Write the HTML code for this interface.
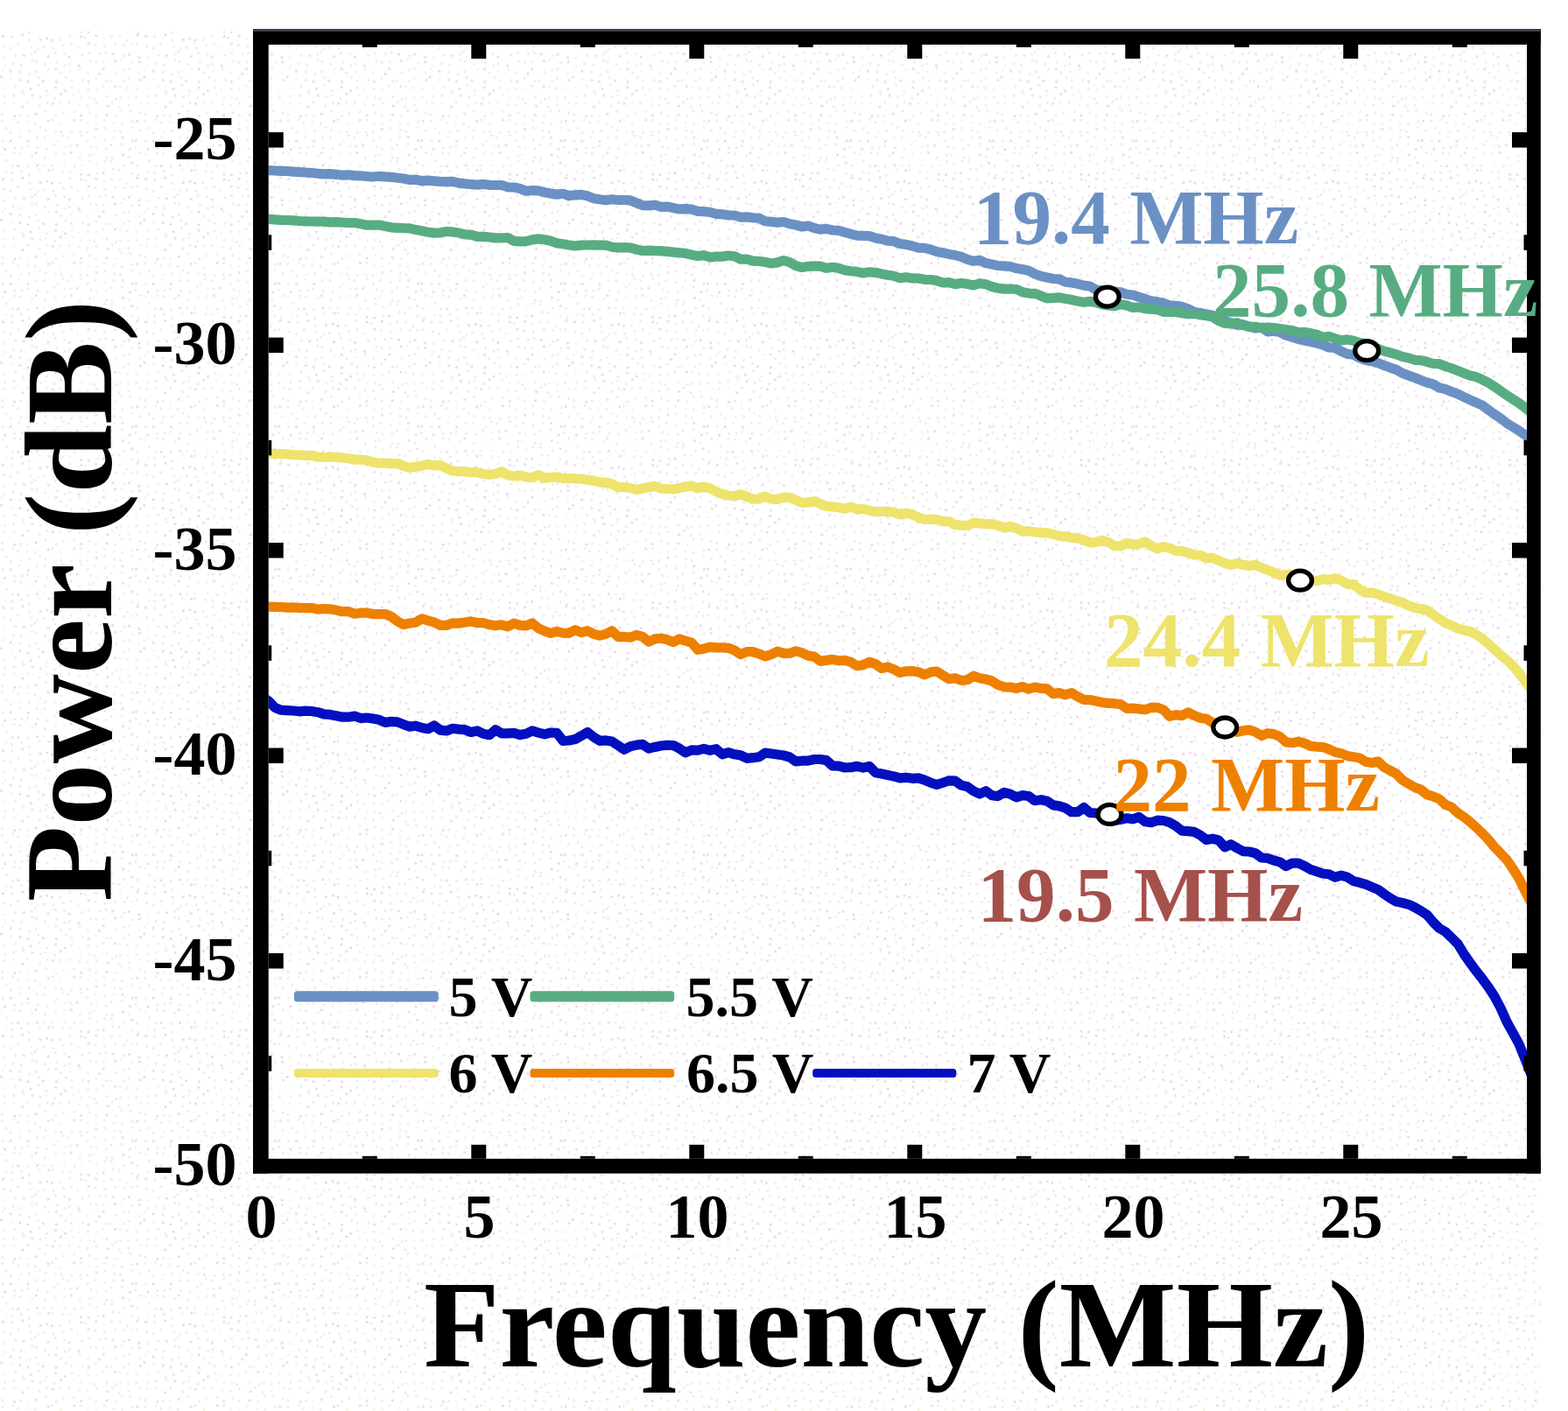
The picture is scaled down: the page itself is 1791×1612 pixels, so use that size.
<!DOCTYPE html>
<html lang="en"><head><meta charset="utf-8"><title>Power vs Frequency</title>
<style>
html,body{margin:0;padding:0;background:#fff;}
body{width:1791px;height:1612px;overflow:hidden;}
svg{display:block;}
text{font-family:"Liberation Serif","DejaVu Serif",serif;font-weight:bold;}
</style></head><body>
<svg width="1791" height="1612" viewBox="0 0 1791 1612">
<defs>
<clipPath id="plot"><rect x="306.7" y="51.0" width="1437.3" height="1272.8"/></clipPath>
<pattern id="dz" width="163.2" height="163.2" patternUnits="userSpaceOnUse"><rect x="4.4" y="6.3" width="2.6" height="2.6" fill="#ecd3ef"/><rect x="1.6" y="11.7" width="2.6" height="2.6" fill="#f4f4da"/><rect x="6.1" y="19.2" width="2.6" height="2.6" fill="#eaeaea"/><rect x="5.6" y="32.1" width="2.6" height="2.6" fill="#f4f4da"/><rect x="2.1" y="40.3" width="2.6" height="2.6" fill="#ecd3ef"/><rect x="3.1" y="51.5" width="2.6" height="2.6" fill="#eaeaea"/><rect x="3.9" y="64.6" width="2.6" height="2.6" fill="#f4f4da"/><rect x="4.4" y="74.1" width="2.6" height="2.6" fill="#f4f4da"/><rect x="1.5" y="77.9" width="2.6" height="2.6" fill="#f4f4da"/><rect x="0.3" y="86.6" width="2.6" height="2.6" fill="#ecd3ef"/><rect x="3.6" y="99.3" width="2.6" height="2.6" fill="#f4f4da"/><rect x="4.4" y="109.2" width="2.6" height="2.6" fill="#ddf4f6"/><rect x="3.5" y="116.9" width="2.6" height="2.6" fill="#ddf4f6"/><rect x="1.3" y="129.6" width="2.6" height="2.6" fill="#eaeaea"/><rect x="1.4" y="137.0" width="2.6" height="2.6" fill="#eaeaea"/><rect x="5.8" y="145.1" width="2.6" height="2.6" fill="#eaeaea"/><rect x="1.9" y="159.8" width="2.6" height="2.6" fill="#eaeaea"/><rect x="15.5" y="4.5" width="2.6" height="2.6" fill="#eaeaea"/><rect x="14.8" y="10.2" width="2.6" height="2.6" fill="#eaeaea"/><rect x="13.2" y="25.3" width="2.6" height="2.6" fill="#eaeaea"/><rect x="12.1" y="33.0" width="2.6" height="2.6" fill="#eaeaea"/><rect x="12.3" y="40.7" width="2.6" height="2.6" fill="#eaeaea"/><rect x="10.7" y="53.7" width="2.6" height="2.6" fill="#eaeaea"/><rect x="16.5" y="61.7" width="2.6" height="2.6" fill="#eaeaea"/><rect x="13.8" y="71.7" width="2.6" height="2.6" fill="#eaeaea"/><rect x="10.7" y="79.9" width="2.6" height="2.6" fill="#ecd3ef"/><rect x="11.3" y="89.2" width="2.6" height="2.6" fill="#f4f4da"/><rect x="16.4" y="97.5" width="2.6" height="2.6" fill="#eaeaea"/><rect x="14.3" y="107.7" width="2.6" height="2.6" fill="#eaeaea"/><rect x="14.2" y="116.1" width="2.6" height="2.6" fill="#f4f4da"/><rect x="15.5" y="131.4" width="2.6" height="2.6" fill="#ecd3ef"/><rect x="13.6" y="135.4" width="2.6" height="2.6" fill="#ddf4f6"/><rect x="10.9" y="150.5" width="2.6" height="2.6" fill="#eaeaea"/><rect x="10.9" y="159.8" width="2.6" height="2.6" fill="#ecd3ef"/><rect x="23.7" y="4.0" width="2.6" height="2.6" fill="#eaeaea"/><rect x="22.1" y="11.3" width="2.6" height="2.6" fill="#eaeaea"/><rect x="19.5" y="25.3" width="2.6" height="2.6" fill="#ecd3ef"/><rect x="23.0" y="31.1" width="2.6" height="2.6" fill="#eaeaea"/><rect x="24.5" y="38.6" width="2.6" height="2.6" fill="#ecd3ef"/><rect x="19.4" y="48.9" width="2.6" height="2.6" fill="#eaeaea"/><rect x="26.0" y="62.2" width="2.6" height="2.6" fill="#ecd3ef"/><rect x="22.9" y="73.3" width="2.6" height="2.6" fill="#eaeaea"/><rect x="21.6" y="80.9" width="2.6" height="2.6" fill="#eaeaea"/><rect x="21.7" y="90.0" width="2.6" height="2.6" fill="#ecd3ef"/><rect x="24.6" y="102.4" width="2.6" height="2.6" fill="#ddf4f6"/><rect x="25.7" y="105.6" width="2.6" height="2.6" fill="#eaeaea"/><rect x="24.5" y="120.9" width="2.6" height="2.6" fill="#ecd3ef"/><rect x="22.1" y="130.5" width="2.6" height="2.6" fill="#eaeaea"/><rect x="19.3" y="138.8" width="2.6" height="2.6" fill="#eaeaea"/><rect x="22.8" y="149.1" width="2.6" height="2.6" fill="#f4f4da"/><rect x="20.8" y="155.0" width="2.6" height="2.6" fill="#ddf4f6"/><rect x="30.1" y="2.4" width="2.6" height="2.6" fill="#eaeaea"/><rect x="35.4" y="13.6" width="2.6" height="2.6" fill="#ddf4f6"/><rect x="30.7" y="25.9" width="2.6" height="2.6" fill="#eaeaea"/><rect x="31.9" y="35.7" width="2.6" height="2.6" fill="#eaeaea"/><rect x="32.4" y="44.7" width="2.6" height="2.6" fill="#eaeaea"/><rect x="34.0" y="52.1" width="2.6" height="2.6" fill="#f4f4da"/><rect x="34.9" y="60.5" width="2.6" height="2.6" fill="#eaeaea"/><rect x="35.3" y="67.7" width="2.6" height="2.6" fill="#eaeaea"/><rect x="32.4" y="83.5" width="2.6" height="2.6" fill="#eaeaea"/><rect x="30.6" y="92.0" width="2.6" height="2.6" fill="#ecd3ef"/><rect x="33.8" y="100.4" width="2.6" height="2.6" fill="#ecd3ef"/><rect x="35.6" y="107.9" width="2.6" height="2.6" fill="#ecd3ef"/><rect x="30.2" y="115.6" width="2.6" height="2.6" fill="#eaeaea"/><rect x="30.3" y="131.2" width="2.6" height="2.6" fill="#f4f4da"/><rect x="29.6" y="138.6" width="2.6" height="2.6" fill="#f4f4da"/><rect x="32.2" y="148.2" width="2.6" height="2.6" fill="#eaeaea"/><rect x="30.9" y="160.3" width="2.6" height="2.6" fill="#ecd3ef"/><rect x="41.7" y="4.4" width="2.6" height="2.6" fill="#eaeaea"/><rect x="39.7" y="10.0" width="2.6" height="2.6" fill="#ecd3ef"/><rect x="41.3" y="24.5" width="2.6" height="2.6" fill="#ecd3ef"/><rect x="43.5" y="29.6" width="2.6" height="2.6" fill="#f4f4da"/><rect x="44.8" y="44.0" width="2.6" height="2.6" fill="#ecd3ef"/><rect x="42.1" y="54.4" width="2.6" height="2.6" fill="#f4f4da"/><rect x="38.7" y="57.8" width="2.6" height="2.6" fill="#eaeaea"/><rect x="40.2" y="68.9" width="2.6" height="2.6" fill="#eaeaea"/><rect x="39.7" y="80.8" width="2.6" height="2.6" fill="#eaeaea"/><rect x="42.5" y="87.6" width="2.6" height="2.6" fill="#eaeaea"/><rect x="43.1" y="96.1" width="2.6" height="2.6" fill="#eaeaea"/><rect x="45.0" y="109.4" width="2.6" height="2.6" fill="#eaeaea"/><rect x="44.1" y="119.8" width="2.6" height="2.6" fill="#eaeaea"/><rect x="39.7" y="128.8" width="2.6" height="2.6" fill="#ecd3ef"/><rect x="38.7" y="140.0" width="2.6" height="2.6" fill="#eaeaea"/><rect x="44.4" y="144.4" width="2.6" height="2.6" fill="#ddf4f6"/><rect x="40.8" y="155.8" width="2.6" height="2.6" fill="#eaeaea"/><rect x="52.4" y="5.6" width="2.6" height="2.6" fill="#eaeaea"/><rect x="50.2" y="15.6" width="2.6" height="2.6" fill="#eaeaea"/><rect x="48.9" y="24.6" width="2.6" height="2.6" fill="#f4f4da"/><rect x="54.2" y="30.2" width="2.6" height="2.6" fill="#ecd3ef"/><rect x="52.5" y="42.7" width="2.6" height="2.6" fill="#ecd3ef"/><rect x="48.7" y="52.6" width="2.6" height="2.6" fill="#eaeaea"/><rect x="53.8" y="63.2" width="2.6" height="2.6" fill="#ecd3ef"/><rect x="50.3" y="72.3" width="2.6" height="2.6" fill="#eaeaea"/><rect x="54.3" y="77.9" width="2.6" height="2.6" fill="#f4f4da"/><rect x="48.2" y="91.0" width="2.6" height="2.6" fill="#ecd3ef"/><rect x="51.9" y="102.6" width="2.6" height="2.6" fill="#eaeaea"/><rect x="50.7" y="107.4" width="2.6" height="2.6" fill="#f4f4da"/><rect x="52.6" y="115.9" width="2.6" height="2.6" fill="#eaeaea"/><rect x="50.7" y="125.7" width="2.6" height="2.6" fill="#eaeaea"/><rect x="53.8" y="137.0" width="2.6" height="2.6" fill="#ecd3ef"/><rect x="50.6" y="147.8" width="2.6" height="2.6" fill="#eaeaea"/><rect x="49.7" y="155.9" width="2.6" height="2.6" fill="#eaeaea"/><rect x="60.8" y="0.6" width="2.6" height="2.6" fill="#eaeaea"/><rect x="61.7" y="11.7" width="2.6" height="2.6" fill="#f4f4da"/><rect x="58.1" y="24.5" width="2.6" height="2.6" fill="#ddf4f6"/><rect x="58.5" y="29.7" width="2.6" height="2.6" fill="#eaeaea"/><rect x="58.2" y="44.7" width="2.6" height="2.6" fill="#ecd3ef"/><rect x="59.7" y="53.8" width="2.6" height="2.6" fill="#eaeaea"/><rect x="61.9" y="58.9" width="2.6" height="2.6" fill="#eaeaea"/><rect x="63.8" y="69.8" width="2.6" height="2.6" fill="#eaeaea"/><rect x="62.6" y="77.5" width="2.6" height="2.6" fill="#ecd3ef"/><rect x="63.0" y="92.2" width="2.6" height="2.6" fill="#ecd3ef"/><rect x="62.3" y="98.6" width="2.6" height="2.6" fill="#ecd3ef"/><rect x="61.2" y="110.9" width="2.6" height="2.6" fill="#eaeaea"/><rect x="58.9" y="117.1" width="2.6" height="2.6" fill="#ecd3ef"/><rect x="62.8" y="131.1" width="2.6" height="2.6" fill="#eaeaea"/><rect x="58.5" y="135.7" width="2.6" height="2.6" fill="#eaeaea"/><rect x="62.1" y="149.0" width="2.6" height="2.6" fill="#f4f4da"/><rect x="64.6" y="160.2" width="2.6" height="2.6" fill="#f4f4da"/><rect x="72.6" y="2.8" width="2.6" height="2.6" fill="#f4f4da"/><rect x="71.7" y="10.9" width="2.6" height="2.6" fill="#f4f4da"/><rect x="72.5" y="24.2" width="2.6" height="2.6" fill="#f4f4da"/><rect x="70.3" y="31.4" width="2.6" height="2.6" fill="#eaeaea"/><rect x="67.4" y="44.3" width="2.6" height="2.6" fill="#eaeaea"/><rect x="71.0" y="50.7" width="2.6" height="2.6" fill="#ddf4f6"/><rect x="72.3" y="60.3" width="2.6" height="2.6" fill="#eaeaea"/><rect x="73.0" y="73.6" width="2.6" height="2.6" fill="#eaeaea"/><rect x="68.2" y="82.1" width="2.6" height="2.6" fill="#eaeaea"/><rect x="74.2" y="87.4" width="2.6" height="2.6" fill="#eaeaea"/><rect x="73.0" y="102.4" width="2.6" height="2.6" fill="#ecd3ef"/><rect x="68.1" y="106.2" width="2.6" height="2.6" fill="#ecd3ef"/><rect x="68.0" y="116.4" width="2.6" height="2.6" fill="#ddf4f6"/><rect x="71.2" y="127.9" width="2.6" height="2.6" fill="#ddf4f6"/><rect x="68.5" y="140.8" width="2.6" height="2.6" fill="#f4f4da"/><rect x="68.7" y="149.4" width="2.6" height="2.6" fill="#eaeaea"/><rect x="70.5" y="153.8" width="2.6" height="2.6" fill="#eaeaea"/><rect x="79.0" y="2.2" width="2.6" height="2.6" fill="#eaeaea"/><rect x="80.0" y="10.0" width="2.6" height="2.6" fill="#ecd3ef"/><rect x="83.8" y="25.4" width="2.6" height="2.6" fill="#eaeaea"/><rect x="78.5" y="31.6" width="2.6" height="2.6" fill="#ddf4f6"/><rect x="78.4" y="39.3" width="2.6" height="2.6" fill="#eaeaea"/><rect x="80.3" y="48.9" width="2.6" height="2.6" fill="#eaeaea"/><rect x="78.0" y="63.6" width="2.6" height="2.6" fill="#ecd3ef"/><rect x="78.1" y="71.9" width="2.6" height="2.6" fill="#eaeaea"/><rect x="78.7" y="80.5" width="2.6" height="2.6" fill="#f4f4da"/><rect x="80.4" y="90.8" width="2.6" height="2.6" fill="#eaeaea"/><rect x="80.6" y="98.8" width="2.6" height="2.6" fill="#ddf4f6"/><rect x="82.9" y="106.9" width="2.6" height="2.6" fill="#f4f4da"/><rect x="77.8" y="116.0" width="2.6" height="2.6" fill="#eaeaea"/><rect x="83.4" y="126.4" width="2.6" height="2.6" fill="#ddf4f6"/><rect x="83.6" y="135.9" width="2.6" height="2.6" fill="#ecd3ef"/><rect x="80.3" y="150.4" width="2.6" height="2.6" fill="#eaeaea"/><rect x="77.1" y="155.8" width="2.6" height="2.6" fill="#eaeaea"/><rect x="86.9" y="1.7" width="2.6" height="2.6" fill="#ecd3ef"/><rect x="89.7" y="15.8" width="2.6" height="2.6" fill="#eaeaea"/><rect x="92.2" y="24.5" width="2.6" height="2.6" fill="#f4f4da"/><rect x="91.4" y="34.7" width="2.6" height="2.6" fill="#ecd3ef"/><rect x="91.5" y="40.5" width="2.6" height="2.6" fill="#ecd3ef"/><rect x="87.6" y="53.3" width="2.6" height="2.6" fill="#f4f4da"/><rect x="92.8" y="61.8" width="2.6" height="2.6" fill="#eaeaea"/><rect x="88.7" y="73.8" width="2.6" height="2.6" fill="#ecd3ef"/><rect x="90.0" y="77.4" width="2.6" height="2.6" fill="#eaeaea"/><rect x="93.2" y="90.4" width="2.6" height="2.6" fill="#eaeaea"/><rect x="88.4" y="101.6" width="2.6" height="2.6" fill="#f4f4da"/><rect x="91.3" y="110.1" width="2.6" height="2.6" fill="#f4f4da"/><rect x="89.4" y="118.1" width="2.6" height="2.6" fill="#ddf4f6"/><rect x="91.2" y="130.6" width="2.6" height="2.6" fill="#ecd3ef"/><rect x="91.1" y="135.9" width="2.6" height="2.6" fill="#eaeaea"/><rect x="90.3" y="149.4" width="2.6" height="2.6" fill="#eaeaea"/><rect x="91.5" y="153.7" width="2.6" height="2.6" fill="#eaeaea"/><rect x="102.7" y="3.3" width="2.6" height="2.6" fill="#eaeaea"/><rect x="101.0" y="13.3" width="2.6" height="2.6" fill="#eaeaea"/><rect x="101.1" y="19.8" width="2.6" height="2.6" fill="#ddf4f6"/><rect x="99.9" y="35.3" width="2.6" height="2.6" fill="#ecd3ef"/><rect x="96.3" y="41.6" width="2.6" height="2.6" fill="#eaeaea"/><rect x="99.9" y="48.5" width="2.6" height="2.6" fill="#ecd3ef"/><rect x="100.2" y="59.2" width="2.6" height="2.6" fill="#eaeaea"/><rect x="102.2" y="68.6" width="2.6" height="2.6" fill="#eaeaea"/><rect x="99.2" y="82.1" width="2.6" height="2.6" fill="#ddf4f6"/><rect x="99.9" y="92.0" width="2.6" height="2.6" fill="#ecd3ef"/><rect x="99.3" y="100.3" width="2.6" height="2.6" fill="#eaeaea"/><rect x="100.7" y="110.1" width="2.6" height="2.6" fill="#f4f4da"/><rect x="98.8" y="119.1" width="2.6" height="2.6" fill="#eaeaea"/><rect x="101.2" y="127.5" width="2.6" height="2.6" fill="#eaeaea"/><rect x="99.3" y="139.7" width="2.6" height="2.6" fill="#f4f4da"/><rect x="98.4" y="149.8" width="2.6" height="2.6" fill="#eaeaea"/><rect x="98.7" y="159.5" width="2.6" height="2.6" fill="#eaeaea"/><rect x="108.7" y="5.0" width="2.6" height="2.6" fill="#f4f4da"/><rect x="105.8" y="12.3" width="2.6" height="2.6" fill="#f4f4da"/><rect x="109.7" y="23.1" width="2.6" height="2.6" fill="#f4f4da"/><rect x="110.3" y="33.5" width="2.6" height="2.6" fill="#eaeaea"/><rect x="108.5" y="39.7" width="2.6" height="2.6" fill="#ecd3ef"/><rect x="107.6" y="50.1" width="2.6" height="2.6" fill="#eaeaea"/><rect x="112.6" y="60.1" width="2.6" height="2.6" fill="#eaeaea"/><rect x="108.7" y="69.8" width="2.6" height="2.6" fill="#eaeaea"/><rect x="112.2" y="83.0" width="2.6" height="2.6" fill="#ecd3ef"/><rect x="108.2" y="88.3" width="2.6" height="2.6" fill="#eaeaea"/><rect x="109.1" y="100.8" width="2.6" height="2.6" fill="#f4f4da"/><rect x="106.1" y="111.7" width="2.6" height="2.6" fill="#eaeaea"/><rect x="109.1" y="116.6" width="2.6" height="2.6" fill="#eaeaea"/><rect x="108.5" y="130.6" width="2.6" height="2.6" fill="#eaeaea"/><rect x="108.9" y="139.8" width="2.6" height="2.6" fill="#f4f4da"/><rect x="108.8" y="146.6" width="2.6" height="2.6" fill="#ecd3ef"/><rect x="107.0" y="155.8" width="2.6" height="2.6" fill="#eaeaea"/><rect x="120.1" y="5.4" width="2.6" height="2.6" fill="#eaeaea"/><rect x="120.3" y="15.3" width="2.6" height="2.6" fill="#eaeaea"/><rect x="118.3" y="19.6" width="2.6" height="2.6" fill="#eaeaea"/><rect x="116.9" y="33.3" width="2.6" height="2.6" fill="#ecd3ef"/><rect x="117.8" y="42.9" width="2.6" height="2.6" fill="#f4f4da"/><rect x="118.5" y="51.7" width="2.6" height="2.6" fill="#eaeaea"/><rect x="119.6" y="59.0" width="2.6" height="2.6" fill="#eaeaea"/><rect x="117.2" y="69.3" width="2.6" height="2.6" fill="#ddf4f6"/><rect x="117.0" y="77.3" width="2.6" height="2.6" fill="#ecd3ef"/><rect x="120.6" y="91.4" width="2.6" height="2.6" fill="#eaeaea"/><rect x="116.6" y="97.0" width="2.6" height="2.6" fill="#eaeaea"/><rect x="120.6" y="109.0" width="2.6" height="2.6" fill="#eaeaea"/><rect x="121.7" y="119.8" width="2.6" height="2.6" fill="#ecd3ef"/><rect x="120.6" y="130.1" width="2.6" height="2.6" fill="#ecd3ef"/><rect x="117.6" y="136.2" width="2.6" height="2.6" fill="#ddf4f6"/><rect x="118.6" y="145.0" width="2.6" height="2.6" fill="#eaeaea"/><rect x="118.3" y="158.1" width="2.6" height="2.6" fill="#eaeaea"/><rect x="125.8" y="1.2" width="2.6" height="2.6" fill="#eaeaea"/><rect x="126.8" y="16.3" width="2.6" height="2.6" fill="#eaeaea"/><rect x="126.1" y="20.4" width="2.6" height="2.6" fill="#eaeaea"/><rect x="128.1" y="28.9" width="2.6" height="2.6" fill="#eaeaea"/><rect x="125.9" y="40.3" width="2.6" height="2.6" fill="#eaeaea"/><rect x="130.3" y="49.3" width="2.6" height="2.6" fill="#eaeaea"/><rect x="127.6" y="60.5" width="2.6" height="2.6" fill="#ecd3ef"/><rect x="130.5" y="68.3" width="2.6" height="2.6" fill="#ecd3ef"/><rect x="131.1" y="81.5" width="2.6" height="2.6" fill="#ddf4f6"/><rect x="125.1" y="91.0" width="2.6" height="2.6" fill="#ddf4f6"/><rect x="130.2" y="97.5" width="2.6" height="2.6" fill="#ecd3ef"/><rect x="131.5" y="111.8" width="2.6" height="2.6" fill="#eaeaea"/><rect x="127.0" y="115.4" width="2.6" height="2.6" fill="#eaeaea"/><rect x="130.6" y="131.2" width="2.6" height="2.6" fill="#ddf4f6"/><rect x="129.1" y="139.1" width="2.6" height="2.6" fill="#ddf4f6"/><rect x="129.5" y="148.0" width="2.6" height="2.6" fill="#eaeaea"/><rect x="129.1" y="156.0" width="2.6" height="2.6" fill="#ddf4f6"/><rect x="138.0" y="0.1" width="2.6" height="2.6" fill="#eaeaea"/><rect x="139.3" y="12.5" width="2.6" height="2.6" fill="#ecd3ef"/><rect x="140.4" y="24.5" width="2.6" height="2.6" fill="#eaeaea"/><rect x="134.9" y="29.7" width="2.6" height="2.6" fill="#eaeaea"/><rect x="135.7" y="40.5" width="2.6" height="2.6" fill="#ddf4f6"/><rect x="140.9" y="49.9" width="2.6" height="2.6" fill="#eaeaea"/><rect x="140.7" y="62.4" width="2.6" height="2.6" fill="#eaeaea"/><rect x="137.2" y="67.2" width="2.6" height="2.6" fill="#f4f4da"/><rect x="139.9" y="78.5" width="2.6" height="2.6" fill="#eaeaea"/><rect x="140.0" y="91.2" width="2.6" height="2.6" fill="#eaeaea"/><rect x="135.9" y="97.9" width="2.6" height="2.6" fill="#f4f4da"/><rect x="136.3" y="110.5" width="2.6" height="2.6" fill="#ddf4f6"/><rect x="135.3" y="120.9" width="2.6" height="2.6" fill="#eaeaea"/><rect x="138.0" y="125.0" width="2.6" height="2.6" fill="#eaeaea"/><rect x="138.3" y="140.3" width="2.6" height="2.6" fill="#eaeaea"/><rect x="136.3" y="149.4" width="2.6" height="2.6" fill="#eaeaea"/><rect x="138.7" y="155.8" width="2.6" height="2.6" fill="#ecd3ef"/><rect x="147.2" y="6.0" width="2.6" height="2.6" fill="#ecd3ef"/><rect x="146.1" y="14.9" width="2.6" height="2.6" fill="#ddf4f6"/><rect x="149.2" y="21.8" width="2.6" height="2.6" fill="#ecd3ef"/><rect x="149.1" y="33.7" width="2.6" height="2.6" fill="#eaeaea"/><rect x="144.2" y="45.1" width="2.6" height="2.6" fill="#eaeaea"/><rect x="149.0" y="49.4" width="2.6" height="2.6" fill="#ddf4f6"/><rect x="146.0" y="60.9" width="2.6" height="2.6" fill="#ecd3ef"/><rect x="150.0" y="70.3" width="2.6" height="2.6" fill="#eaeaea"/><rect x="146.1" y="77.3" width="2.6" height="2.6" fill="#eaeaea"/><rect x="145.5" y="88.3" width="2.6" height="2.6" fill="#eaeaea"/><rect x="144.4" y="99.3" width="2.6" height="2.6" fill="#eaeaea"/><rect x="145.5" y="110.8" width="2.6" height="2.6" fill="#f4f4da"/><rect x="145.9" y="119.2" width="2.6" height="2.6" fill="#ddf4f6"/><rect x="147.5" y="125.3" width="2.6" height="2.6" fill="#eaeaea"/><rect x="150.2" y="137.7" width="2.6" height="2.6" fill="#eaeaea"/><rect x="149.6" y="144.5" width="2.6" height="2.6" fill="#f4f4da"/><rect x="150.1" y="159.7" width="2.6" height="2.6" fill="#ecd3ef"/><rect x="153.6" y="3.7" width="2.6" height="2.6" fill="#eaeaea"/><rect x="158.9" y="10.1" width="2.6" height="2.6" fill="#eaeaea"/><rect x="155.5" y="24.9" width="2.6" height="2.6" fill="#eaeaea"/><rect x="156.8" y="35.6" width="2.6" height="2.6" fill="#eaeaea"/><rect x="155.8" y="38.7" width="2.6" height="2.6" fill="#ecd3ef"/><rect x="154.7" y="48.6" width="2.6" height="2.6" fill="#eaeaea"/><rect x="157.6" y="64.3" width="2.6" height="2.6" fill="#ecd3ef"/><rect x="158.1" y="69.5" width="2.6" height="2.6" fill="#ecd3ef"/><rect x="157.6" y="82.1" width="2.6" height="2.6" fill="#f4f4da"/><rect x="159.2" y="90.3" width="2.6" height="2.6" fill="#ecd3ef"/><rect x="155.0" y="100.1" width="2.6" height="2.6" fill="#f4f4da"/><rect x="154.8" y="109.9" width="2.6" height="2.6" fill="#eaeaea"/><rect x="159.3" y="116.1" width="2.6" height="2.6" fill="#f4f4da"/><rect x="158.7" y="127.6" width="2.6" height="2.6" fill="#eaeaea"/><rect x="155.5" y="137.0" width="2.6" height="2.6" fill="#ecd3ef"/><rect x="158.4" y="147.9" width="2.6" height="2.6" fill="#eaeaea"/><rect x="154.3" y="159.3" width="2.6" height="2.6" fill="#ecd3ef"/></pattern>
</defs>
<rect x="0" y="0" width="1791" height="1612" fill="#ffffff"/>
<rect x="0" y="36" width="1760" height="1576" fill="url(#dz)"/>
<g clip-path="url(#plot)" fill="none" stroke-linejoin="round" stroke-linecap="butt" stroke-width="11.2">
<path d="M300,194.5 L307,194.7 L314,195.0 L321,195.3 L328,195.5 L335,196.1 L342,196.6 L349,197.0 L356,197.5 L363,198.2 L370,198.9 L377,198.7 L384,199.3 L391,200.2 L398,199.8 L405,200.6 L412,200.8 L419,201.5 L426,202.0 L433,201.3 L440,201.9 L447,202.3 L454,203.3 L461,204.0 L468,205.5 L475,205.2 L482,206.8 L489,206.2 L496,206.8 L503,207.3 L510,207.6 L517,207.4 L524,209.1 L531,209.9 L538,210.5 L545,211.1 L552,210.5 L559,211.3 L566,211.5 L573,211.5 L580,213.8 L587,214.0 L594,215.5 L601,218.3 L608,217.5 L615,217.9 L622,219.7 L629,221.1 L636,222.1 L643,221.3 L650,223.6 L657,222.8 L664,222.4 L671,223.8 L678,226.7 L685,227.8 L692,228.7 L699,227.7 L706,228.5 L713,228.5 L720,228.8 L727,231.8 L734,234.6 L741,234.9 L748,234.2 L755,236.3 L762,236.1 L769,237.6 L776,238.9 L783,238.6 L790,239.1 L797,241.3 L804,241.7 L811,242.4 L818,244.3 L825,244.8 L832,245.9 L839,246.0 L846,248.1 L853,247.9 L860,248.8 L867,249.2 L874,252.7 L881,253.4 L888,254.1 L895,253.5 L902,255.8 L909,257.0 L916,259.0 L923,258.0 L930,260.5 L937,262.1 L944,261.4 L951,263.0 L958,263.4 L965,265.4 L972,267.3 L979,269.2 L986,269.3 L993,269.7 L1000,271.9 L1007,273.2 L1014,275.2 L1021,275.7 L1028,278.5 L1035,279.4 L1042,281.0 L1049,283.1 L1056,283.4 L1063,285.0 L1070,287.5 L1077,288.8 L1084,290.4 L1091,291.6 L1098,293.4 L1105,296.3 L1112,298.3 L1119,297.2 L1126,300.6 L1133,301.9 L1140,303.5 L1147,303.9 L1154,304.5 L1161,306.6 L1168,307.8 L1175,309.3 L1182,312.9 L1189,315.4 L1196,316.9 L1203,318.5 L1210,318.9 L1217,322.2 L1224,322.9 L1231,324.3 L1238,326.1 L1245,327.0 L1252,331.1 L1259,331.9 L1266,332.9 L1273,333.1 L1280,333.9 L1287,336.2 L1294,337.0 L1301,339.4 L1308,341.4 L1315,343.9 L1322,344.9 L1329,346.3 L1336,348.9 L1343,349.3 L1350,350.4 L1357,352.7 L1364,356.4 L1371,357.6 L1378,359.0 L1385,360.2 L1392,363.2 L1399,366.6 L1406,369.0 L1413,371.2 L1420,370.8 L1427,373.2 L1434,375.0 L1441,374.2 L1448,379.0 L1455,378.2 L1462,379.6 L1469,383.2 L1476,385.1 L1483,387.5 L1490,389.0 L1497,390.5 L1504,392.1 L1511,394.0 L1518,397.0 L1525,397.5 L1532,401.3 L1539,404.4 L1546,405.3 L1553,409.0 L1560,411.5 L1567,412.7 L1574,414.7 L1581,417.6 L1588,420.1 L1595,422.4 L1602,426.5 L1609,429.1 L1616,431.5 L1623,434.4 L1630,437.0 L1637,438.9 L1644,443.1 L1651,444.6 L1658,447.5 L1665,450.0 L1672,453.5 L1679,456.8 L1686,459.9 L1693,463.0 L1700,468.3 L1707,473.3 L1714,477.9 L1721,483.5 L1728,487.7 L1735,492.1 L1742,496.8 L1749,501.2 L1756,502.1" stroke="#6b90c4"/>
<path d="M300,250.0 L307,250.4 L314,250.9 L321,251.3 L328,251.5 L335,251.9 L342,252.5 L349,252.8 L356,253.0 L363,253.2 L370,253.2 L377,253.8 L384,253.6 L391,254.2 L398,254.5 L405,254.6 L412,255.8 L419,257.2 L426,257.0 L433,257.1 L440,258.5 L447,259.8 L454,260.3 L461,260.7 L468,260.8 L475,262.6 L482,263.8 L489,265.2 L496,266.1 L503,265.8 L510,264.5 L517,264.9 L524,266.1 L531,267.8 L538,268.1 L545,270.3 L552,270.4 L559,271.0 L566,271.9 L573,271.9 L580,271.5 L587,275.3 L594,275.8 L601,275.7 L608,273.9 L615,272.9 L622,273.7 L629,275.2 L636,277.7 L643,278.8 L650,280.0 L657,281.0 L664,280.1 L671,280.0 L678,279.8 L685,280.1 L692,280.2 L699,282.2 L706,282.9 L713,282.7 L720,283.0 L727,285.0 L734,286.5 L741,286.2 L748,286.7 L755,286.6 L762,287.4 L769,288.1 L776,288.8 L783,289.4 L790,291.2 L797,292.5 L804,291.6 L811,293.8 L818,293.2 L825,293.1 L832,292.0 L839,292.7 L846,296.1 L853,296.1 L860,298.1 L867,298.5 L874,299.4 L881,301.0 L888,299.9 L895,297.5 L902,299.6 L909,303.6 L916,305.5 L923,304.3 L930,303.9 L937,304.2 L944,306.3 L951,305.3 L958,306.4 L965,308.7 L972,309.7 L979,310.4 L986,311.9 L993,310.8 L1000,311.3 L1007,312.9 L1014,314.3 L1021,315.3 L1028,317.7 L1035,316.7 L1042,317.9 L1049,318.0 L1056,319.3 L1063,319.5 L1070,320.6 L1077,323.0 L1084,322.7 L1091,324.6 L1098,323.5 L1105,324.4 L1112,326.0 L1119,323.7 L1126,324.8 L1133,327.5 L1140,329.2 L1147,330.1 L1154,330.0 L1161,330.5 L1168,333.8 L1175,335.1 L1182,335.3 L1189,338.0 L1196,340.9 L1203,340.4 L1210,339.9 L1217,341.3 L1224,342.5 L1231,344.1 L1238,345.3 L1245,344.4 L1252,345.5 L1259,347.9 L1266,348.9 L1273,349.6 L1280,347.8 L1287,348.9 L1294,351.4 L1301,351.0 L1308,352.6 L1315,353.2 L1322,353.7 L1329,356.4 L1336,356.2 L1343,356.4 L1350,357.7 L1357,358.8 L1364,358.3 L1371,359.8 L1378,360.8 L1385,362.0 L1392,366.5 L1399,369.2 L1406,369.9 L1413,368.8 L1420,371.6 L1427,373.2 L1434,373.3 L1441,374.9 L1448,374.1 L1455,374.6 L1462,375.6 L1469,376.5 L1476,377.5 L1483,379.9 L1490,379.4 L1497,380.6 L1504,382.2 L1511,385.4 L1518,384.4 L1525,386.7 L1532,389.0 L1539,387.9 L1546,389.3 L1553,391.5 L1560,393.1 L1567,397.0 L1574,398.3 L1581,401.2 L1588,403.0 L1595,404.9 L1602,407.5 L1609,409.0 L1616,411.3 L1623,411.6 L1630,413.3 L1637,415.5 L1644,415.7 L1651,418.5 L1658,420.8 L1665,423.5 L1672,426.3 L1679,429.1 L1686,430.6 L1693,433.7 L1700,437.3 L1707,441.7 L1714,446.6 L1721,451.5 L1728,455.9 L1735,460.5 L1742,465.9 L1749,471.0 L1756,471.8" stroke="#58ac82"/>
<path d="M300,517.8 L307,518.2 L314,518.5 L321,518.6 L328,519.0 L335,519.6 L342,519.9 L349,520.5 L356,520.3 L363,522.0 L370,522.5 L377,521.7 L384,522.4 L391,522.9 L398,523.8 L405,525.2 L412,525.2 L419,525.8 L426,527.9 L433,529.3 L440,529.0 L447,529.8 L454,529.5 L461,532.3 L468,534.3 L475,533.2 L482,532.1 L489,530.4 L496,531.8 L503,531.3 L510,535.2 L517,538.0 L524,538.7 L531,538.5 L538,539.7 L545,539.6 L552,541.5 L559,542.3 L566,541.5 L573,538.8 L580,542.8 L587,544.0 L594,543.1 L601,545.0 L608,545.5 L615,542.6 L622,546.2 L629,545.3 L636,544.8 L643,546.7 L650,546.4 L657,547.0 L664,547.1 L671,548.3 L678,549.1 L685,550.9 L692,551.6 L699,552.8 L706,556.8 L713,556.5 L720,557.5 L727,559.4 L734,558.1 L741,556.6 L748,555.5 L755,558.0 L762,558.5 L769,559.0 L776,557.5 L783,556.4 L790,554.8 L797,557.8 L804,556.2 L811,557.8 L818,561.6 L825,564.4 L832,566.0 L839,566.8 L846,564.7 L853,567.5 L860,570.2 L867,569.9 L874,567.0 L881,570.2 L888,570.3 L895,568.4 L902,568.4 L909,571.3 L916,574.4 L923,573.9 L930,572.7 L937,575.4 L944,578.5 L951,578.8 L958,579.7 L965,581.2 L972,579.2 L979,582.2 L986,581.3 L993,583.3 L1000,584.7 L1007,584.5 L1014,584.1 L1021,585.6 L1028,587.8 L1035,586.2 L1042,587.8 L1049,591.2 L1056,593.3 L1063,593.2 L1070,593.5 L1077,595.6 L1084,595.9 L1091,599.7 L1098,600.2 L1105,600.5 L1112,597.2 L1119,597.8 L1126,598.7 L1133,598.3 L1140,600.3 L1147,603.0 L1154,601.5 L1161,603.5 L1168,607.0 L1175,606.9 L1182,607.8 L1189,608.3 L1196,608.6 L1203,610.4 L1210,612.5 L1217,612.8 L1224,614.4 L1231,614.9 L1238,616.8 L1245,619.9 L1252,619.3 L1259,617.2 L1266,619.6 L1273,623.7 L1280,623.9 L1287,620.4 L1294,622.1 L1301,621.6 L1308,619.0 L1315,623.5 L1322,626.9 L1329,624.5 L1336,626.1 L1343,629.4 L1350,629.7 L1357,631.5 L1364,634.0 L1371,634.2 L1378,637.7 L1385,637.4 L1392,640.4 L1399,643.5 L1406,645.4 L1413,643.5 L1420,645.4 L1427,646.4 L1434,645.2 L1441,648.6 L1448,651.3 L1455,654.0 L1462,657.3 L1469,656.5 L1476,657.1 L1483,658.4 L1490,659.9 L1497,662.0 L1504,663.9 L1511,661.5 L1518,662.5 L1525,660.6 L1532,663.0 L1539,667.3 L1546,667.7 L1553,673.5 L1560,677.3 L1567,676.8 L1574,678.8 L1581,681.9 L1588,683.8 L1595,686.3 L1602,688.4 L1609,692.1 L1616,694.2 L1623,695.8 L1630,697.1 L1637,702.1 L1644,707.3 L1651,711.8 L1658,714.6 L1665,717.9 L1672,719.9 L1679,721.3 L1686,724.9 L1693,729.7 L1700,735.4 L1707,741.9 L1714,748.3 L1721,754.0 L1728,760.6 L1735,768.9 L1742,778.0 L1749,788.3 L1756,789.2" stroke="#eee36b"/>
<path d="M300,693.0 L307,693.1 L314,693.4 L321,693.5 L328,694.1 L335,693.9 L342,694.3 L349,694.6 L356,694.5 L363,696.1 L370,695.5 L377,695.8 L384,697.1 L391,698.7 L398,698.6 L405,701.2 L412,700.2 L419,700.2 L426,701.6 L433,701.7 L440,701.5 L447,704.5 L454,709.8 L461,713.6 L468,712.1 L475,710.9 L482,706.8 L489,709.1 L496,710.9 L503,714.4 L510,714.4 L517,711.8 L524,712.1 L531,711.0 L538,709.9 L545,711.5 L552,711.6 L559,713.6 L566,714.7 L573,713.8 L580,715.8 L587,712.1 L594,714.3 L601,714.8 L608,712.0 L615,717.8 L622,720.9 L629,723.5 L636,721.4 L643,723.1 L650,723.3 L657,719.6 L664,722.6 L671,720.6 L678,724.3 L685,726.2 L692,724.4 L699,720.7 L706,727.6 L713,727.4 L720,728.2 L727,725.4 L734,727.4 L741,733.2 L748,729.9 L755,729.2 L762,730.8 L769,733.7 L776,729.9 L783,732.2 L790,734.2 L797,742.3 L804,741.2 L811,739.2 L818,739.8 L825,739.8 L832,740.3 L839,743.0 L846,747.7 L853,744.7 L860,744.6 L867,747.0 L874,749.9 L881,747.6 L888,744.2 L895,746.3 L902,746.4 L909,743.8 L916,745.7 L923,749.1 L930,750.1 L937,755.4 L944,754.4 L951,753.4 L958,754.8 L965,754.4 L972,756.4 L979,760.7 L986,759.6 L993,756.2 L1000,758.6 L1007,763.7 L1014,761.9 L1021,764.6 L1028,768.5 L1035,766.8 L1042,766.6 L1049,767.7 L1056,770.9 L1063,767.9 L1070,767.0 L1077,771.4 L1084,775.7 L1091,774.7 L1098,777.4 L1105,776.7 L1112,772.3 L1119,774.7 L1126,776.0 L1133,778.0 L1140,782.5 L1147,784.8 L1154,785.1 L1161,786.4 L1168,784.5 L1175,787.2 L1182,785.0 L1189,786.4 L1196,786.9 L1203,792.6 L1210,791.6 L1217,793.8 L1224,791.5 L1231,795.9 L1238,799.3 L1245,799.6 L1252,801.1 L1259,802.6 L1266,803.4 L1273,803.7 L1280,804.6 L1287,809.4 L1294,809.1 L1301,809.9 L1308,810.8 L1315,808.2 L1322,808.3 L1329,810.9 L1336,818.4 L1343,816.6 L1350,817.6 L1357,813.8 L1364,817.4 L1371,820.2 L1378,821.2 L1385,825.9 L1392,825.8 L1399,828.6 L1406,833.6 L1413,836.4 L1420,834.8 L1427,833.9 L1434,836.3 L1441,840.6 L1448,837.7 L1455,838.6 L1462,841.6 L1469,847.9 L1476,848.7 L1483,847.2 L1490,849.1 L1497,852.4 L1504,853.1 L1511,853.5 L1518,855.9 L1525,859.2 L1532,860.7 L1539,863.6 L1546,864.7 L1553,865.9 L1560,870.2 L1567,871.6 L1574,869.9 L1581,876.6 L1588,880.3 L1595,884.2 L1602,891.3 L1609,895.5 L1616,899.5 L1623,902.1 L1630,907.9 L1637,909.9 L1644,912.8 L1651,919.3 L1658,922.1 L1665,928.8 L1672,933.2 L1679,938.8 L1686,945.2 L1693,951.8 L1700,959.2 L1707,967.6 L1714,974.8 L1721,982.1 L1728,992.4 L1735,1003.5 L1742,1017.9 L1749,1031.6 L1756,1033.8" stroke="#ee8000"/>
<path d="M300,796.0 L307,801.0 L314,808.4 L321,811.2 L328,811.6 L335,812.0 L342,812.8 L349,812.2 L356,812.5 L363,813.7 L370,815.9 L377,816.4 L384,817.7 L391,819.2 L398,819.2 L405,818.1 L412,820.6 L419,820.0 L426,821.0 L433,822.3 L440,825.4 L447,824.4 L454,824.8 L461,827.7 L468,830.1 L475,829.3 L482,831.5 L489,832.7 L496,829.0 L503,834.1 L510,835.0 L517,832.3 L524,833.1 L531,833.7 L538,836.5 L545,834.9 L552,838.3 L559,839.7 L566,833.7 L573,837.8 L580,837.9 L587,837.4 L594,839.6 L601,838.2 L608,834.9 L615,837.1 L622,838.8 L629,837.0 L636,837.3 L643,846.4 L650,846.0 L657,844.6 L664,840.7 L671,836.5 L678,841.9 L685,846.3 L692,845.9 L699,847.1 L706,851.6 L713,856.3 L720,852.8 L727,851.1 L734,850.3 L741,855.2 L748,853.4 L755,852.0 L762,851.3 L769,851.5 L776,855.1 L783,859.9 L790,856.9 L797,857.1 L804,855.4 L811,857.3 L818,855.7 L825,861.8 L832,859.6 L839,861.8 L846,862.9 L853,866.3 L860,865.7 L867,864.8 L874,860.1 L881,861.0 L888,862.0 L895,863.0 L902,865.0 L909,869.9 L916,869.2 L923,869.1 L930,867.5 L937,867.5 L944,868.6 L951,875.0 L958,875.2 L965,877.0 L972,876.7 L979,875.3 L986,877.1 L993,875.3 L1000,882.7 L1007,884.1 L1014,885.5 L1021,886.9 L1028,888.9 L1035,888.3 L1042,889.3 L1049,888.9 L1056,891.1 L1063,894.2 L1070,896.5 L1077,894.2 L1084,891.8 L1091,892.2 L1098,897.1 L1105,898.7 L1112,903.7 L1119,907.0 L1126,903.7 L1133,908.8 L1140,909.6 L1147,905.3 L1154,907.2 L1161,910.8 L1168,908.6 L1175,909.5 L1182,914.7 L1189,913.7 L1196,915.2 L1203,919.9 L1210,920.9 L1217,923.1 L1224,927.7 L1231,927.7 L1238,922.6 L1245,928.5 L1252,929.0 L1259,930.8 L1266,934.1 L1273,937.6 L1280,936.2 L1287,934.8 L1294,935.8 L1301,933.4 L1308,938.7 L1315,939.6 L1322,937.2 L1329,937.5 L1336,939.6 L1343,943.6 L1350,949.1 L1357,949.7 L1364,950.3 L1371,954.1 L1378,959.5 L1385,958.2 L1392,959.9 L1399,967.8 L1406,964.7 L1413,968.9 L1420,972.6 L1427,973.0 L1434,974.7 L1441,980.0 L1448,980.4 L1455,983.0 L1462,984.8 L1469,989.6 L1476,986.0 L1483,986.2 L1490,989.4 L1497,993.4 L1504,995.6 L1511,998.0 L1518,998.8 L1525,1002.1 L1532,1000.1 L1539,1002.1 L1546,1006.6 L1553,1008.3 L1560,1010.3 L1567,1013.3 L1574,1016.3 L1581,1021.4 L1588,1026.1 L1595,1030.1 L1602,1031.5 L1609,1033.3 L1616,1036.6 L1623,1040.6 L1630,1045.2 L1637,1053.5 L1644,1060.5 L1651,1064.5 L1658,1071.2 L1665,1078.2 L1672,1089.7 L1679,1099.7 L1686,1109.3 L1693,1118.1 L1700,1127.7 L1707,1138.3 L1714,1151.5 L1721,1167.2 L1728,1179.9 L1735,1192.6 L1742,1210.0 L1749,1227.6 L1756,1231.5" stroke="#0410c0"/>
</g>
<ellipse cx="1264.8" cy="339.1" rx="13.4" ry="11" fill="#ffffff" stroke="#000" stroke-width="5.3"/>
<ellipse cx="1561.2" cy="400.7" rx="13.4" ry="11" fill="#ffffff" stroke="#000" stroke-width="5.3"/>
<ellipse cx="1485" cy="663.2" rx="13.4" ry="11" fill="#ffffff" stroke="#000" stroke-width="5.3"/>
<ellipse cx="1399.2" cy="831" rx="13.4" ry="11" fill="#ffffff" stroke="#000" stroke-width="5.3"/>
<ellipse cx="1267.5" cy="930.4" rx="13.4" ry="11" fill="#ffffff" stroke="#000" stroke-width="5.3"/>
<rect x="336" y="1132.2" width="164.8" height="12.4" rx="3.5" ry="3.5" fill="#6b90c4"/>
<text x="512.5" y="1161" font-size="66" fill="#000">5 V</text>
<rect x="605.5" y="1132.2" width="164.7" height="12.4" rx="3.5" ry="3.5" fill="#58ac82"/>
<text x="783.5" y="1161" font-size="66" fill="#000">5.5 V</text>
<rect x="336" y="1220.9" width="164.8" height="10.2" rx="3.5" ry="3.5" fill="#eee36b"/>
<text x="512.5" y="1247.5" font-size="66" fill="#000">6 V</text>
<rect x="605.5" y="1220.9" width="164.7" height="10.2" rx="3.5" ry="3.5" fill="#ee8000"/>
<text x="784" y="1247.5" font-size="66" fill="#000">6.5 V</text>
<rect x="928.2" y="1220.9" width="164.1" height="10.2" rx="3.5" ry="3.5" fill="#0410c0"/>
<text x="1104.5" y="1247.5" font-size="66" fill="#000">7 V</text>
<g fill="#000">
<rect x="289.0" y="33.0" width="1470.8" height="18.0"/>
<rect x="289.0" y="1323.8" width="1470.8" height="16.8"/>
<rect x="289.0" y="33.0" width="17.7" height="1307.6"/>
<rect x="1744.0" y="33.0" width="15.8" height="1307.6"/>
<rect x="413.8" y="51.0" width="17" height="3"/>
<rect x="413.8" y="1320.8" width="17" height="3"/>
<rect x="538.3" y="51.0" width="17" height="16"/>
<rect x="538.3" y="1307.8" width="17" height="16"/>
<rect x="662.8" y="51.0" width="17" height="3"/>
<rect x="662.8" y="1320.8" width="17" height="3"/>
<rect x="787.3" y="51.0" width="17" height="16"/>
<rect x="787.3" y="1307.8" width="17" height="16"/>
<rect x="911.8" y="51.0" width="17" height="3"/>
<rect x="911.8" y="1320.8" width="17" height="3"/>
<rect x="1036.3" y="51.0" width="17" height="16"/>
<rect x="1036.3" y="1307.8" width="17" height="16"/>
<rect x="1160.8" y="51.0" width="17" height="3"/>
<rect x="1160.8" y="1320.8" width="17" height="3"/>
<rect x="1285.3" y="51.0" width="17" height="16"/>
<rect x="1285.3" y="1307.8" width="17" height="16"/>
<rect x="1409.8" y="51.0" width="17" height="3"/>
<rect x="1409.8" y="1320.8" width="17" height="3"/>
<rect x="1534.3" y="51.0" width="17" height="16"/>
<rect x="1534.3" y="1307.8" width="17" height="16"/>
<rect x="1658.8" y="51.0" width="17" height="3"/>
<rect x="1658.8" y="1320.8" width="17" height="3"/>
<rect x="306.7" y="151.1" width="17" height="17.5"/>
<rect x="1727.0" y="151.1" width="17" height="17.5"/>
<rect x="306.7" y="268.3" width="3.5" height="17.5"/>
<rect x="1740.5" y="268.3" width="3.5" height="17.5"/>
<rect x="306.7" y="385.6" width="17" height="17.5"/>
<rect x="1727.0" y="385.6" width="17" height="17.5"/>
<rect x="306.7" y="502.8" width="3.5" height="17.5"/>
<rect x="1740.5" y="502.8" width="3.5" height="17.5"/>
<rect x="306.7" y="620.0" width="17" height="17.5"/>
<rect x="1727.0" y="620.0" width="17" height="17.5"/>
<rect x="306.7" y="737.3" width="3.5" height="17.5"/>
<rect x="1740.5" y="737.3" width="3.5" height="17.5"/>
<rect x="306.7" y="854.5" width="17" height="17.5"/>
<rect x="1727.0" y="854.5" width="17" height="17.5"/>
<rect x="306.7" y="971.8" width="3.5" height="17.5"/>
<rect x="1740.5" y="971.8" width="3.5" height="17.5"/>
<rect x="306.7" y="1089.0" width="17" height="17.5"/>
<rect x="1727.0" y="1089.0" width="17" height="17.5"/>
<rect x="306.7" y="1206.3" width="3.5" height="17.5"/>
<rect x="1740.5" y="1206.3" width="3.5" height="17.5"/>
</g>
<rect x="289.0" y="33.0" width="1470.8" height="3" fill="#3a404b"/>
<text x="1111.8" y="277.9" font-size="89.2" fill="#6b90c4">19.4 MHz</text>
<text x="1385" y="360.7" font-size="89.2" fill="#58ac82">25.8 MHz</text>
<text x="1261" y="761.2" font-size="89.2" fill="#eee36b">24.4 MHz</text>
<text x="1271.5" y="925.8" font-size="89.2" fill="#ee8000">22 MHz</text>
<text x="1116.5" y="1052" font-size="89.2" fill="#a5504b">19.5 MHz</text>
<text x="298.5" y="1414.2" font-size="72" text-anchor="middle" fill="#000">0</text>
<text x="547.5" y="1414.2" font-size="72" text-anchor="middle" fill="#000">5</text>
<text x="796.5" y="1414.2" font-size="72" text-anchor="middle" fill="#000">10</text>
<text x="1045.5" y="1414.2" font-size="72" text-anchor="middle" fill="#000">15</text>
<text x="1294.5" y="1414.2" font-size="72" text-anchor="middle" fill="#000">20</text>
<text x="1543.5" y="1414.2" font-size="72" text-anchor="middle" fill="#000">25</text>
<text x="270.5" y="181.6" font-size="72" text-anchor="end" fill="#000">-25</text>
<text x="270.5" y="416.1" font-size="72" text-anchor="end" fill="#000">-30</text>
<text x="270.5" y="650.6" font-size="72" text-anchor="end" fill="#000">-35</text>
<text x="270.5" y="885.1" font-size="72" text-anchor="end" fill="#000">-40</text>
<text x="270.5" y="1119.6" font-size="72" text-anchor="end" fill="#000">-45</text>
<text x="270.5" y="1354.1" font-size="72" text-anchor="end" fill="#000">-50</text>
<text x="1024" y="1561" font-size="141.8" text-anchor="middle" fill="#000">Frequency (MHz)</text>
<text transform="translate(127.3,686.5) rotate(-90)" font-size="142" text-anchor="middle" fill="#000">Power (dB)</text>
</svg></body></html>
